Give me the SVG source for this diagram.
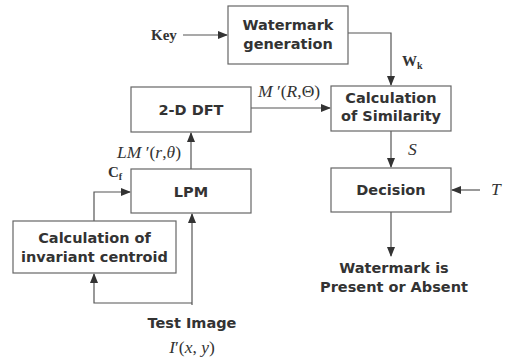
<svg xmlns="http://www.w3.org/2000/svg" width="511" height="359" viewBox="0 0 511 359">
<style>
.box{fill:#fff;stroke:#666;stroke-width:1.2}
.t{font-family:"DejaVu Sans",Verdana,sans-serif;font-weight:bold;font-size:14.5px;fill:#333;text-anchor:middle}
.s{font-family:"Liberation Serif","Times New Roman",serif;font-size:17.5px;fill:#333}
.sb{font-family:"Liberation Serif","Times New Roman",serif;font-size:15px;font-weight:bold;fill:#333}
.c{fill:none;stroke:#555;stroke-width:1.2}
</style>
<defs>
<marker id="a" markerWidth="10" markerHeight="8" refX="9" refY="4" orient="auto" markerUnits="userSpaceOnUse">
<path d="M0,0 L10,4 L0,8 z" fill="#333"/>
</marker>
</defs>
<rect width="511" height="359" fill="#fff"/>
<g id="connectors">
<path class="c" d="M183,35 H227" marker-end="url(#a)"/>
<path class="c" d="M348,33 H391 V85" marker-end="url(#a)"/>
<path class="c" d="M251,108 H330" marker-end="url(#a)"/>
<path class="c" d="M391,131 V167" marker-end="url(#a)"/>
<path class="c" d="M480,190 H452" marker-end="url(#a)"/>
<path class="c" d="M391,212 V256" marker-end="url(#a)"/>
<path class="c" d="M191,169 V133" marker-end="url(#a)"/>
<path class="c" d="M94,221 V192 H130" marker-end="url(#a)"/>
<path class="c" d="M192,305 V214" marker-end="url(#a)"/>
<path class="c" d="M192,303 H94 V274" marker-end="url(#a)"/>
</g>
<g id="key"><text class="sb" x="151" y="40">Key</text></g>
<g id="watermark-generation">
<rect class="box" x="228" y="6" width="120" height="58"/>
<text class="t" x="288" y="30">Watermark</text>
<text class="t" x="288" y="49">generation</text>
</g>
<g id="dft">
<rect class="box" x="131" y="87" width="120" height="45"/>
<text class="t" x="191" y="115">2-D DFT</text>
</g>
<g id="similarity">
<rect class="box" x="331" y="86" width="120" height="45"/>
<text class="t" x="391" y="103">Calculation</text>
<text class="t" x="391" y="121">of Similarity</text>
</g>
<g id="decision">
<rect class="box" x="331" y="168" width="120" height="44"/>
<text class="t" x="391" y="195">Decision</text>
</g>
<g id="lpm">
<rect class="box" x="131" y="169" width="120" height="44"/>
<text class="t" x="191" y="197">LPM</text>
</g>
<g id="centroid">
<rect class="box" x="13" y="221" width="163" height="52"/>
<text class="t" x="94.5" y="243">Calculation of</text>
<text class="t" x="94.5" y="262">invariant centroid</text>
</g>
<g id="result">
<text class="t" x="394" y="273">Watermark is</text>
<text class="t" x="394" y="292">Present or Absent</text>
</g>
<g id="test-image">
<text class="t" x="192" y="328">Test Image</text>
<text class="s" x="192" y="353" text-anchor="middle"><tspan font-style="italic">I</tspan>′(<tspan font-style="italic">x</tspan>, <tspan font-style="italic">y</tspan>)</text>
</g>
<g id="labels">
<text class="sb" x="402" y="66">W<tspan font-size="10" dy="3">k</tspan></text>
<text class="s" x="258" y="97"><tspan font-style="italic">M</tspan> ′(<tspan font-style="italic">R</tspan>,Θ)</text>
<text class="s" x="408" y="155" font-style="italic">S</text>
<text class="s" x="491" y="195" font-style="italic">T</text>
<text class="s" x="117" y="158"><tspan font-style="italic">LM</tspan> ′(<tspan font-style="italic">r</tspan>,<tspan font-style="italic">θ</tspan>)</text>
<text class="sb" x="108" y="177">C<tspan font-size="10" dy="3">f</tspan></text>
</g>
</svg>
